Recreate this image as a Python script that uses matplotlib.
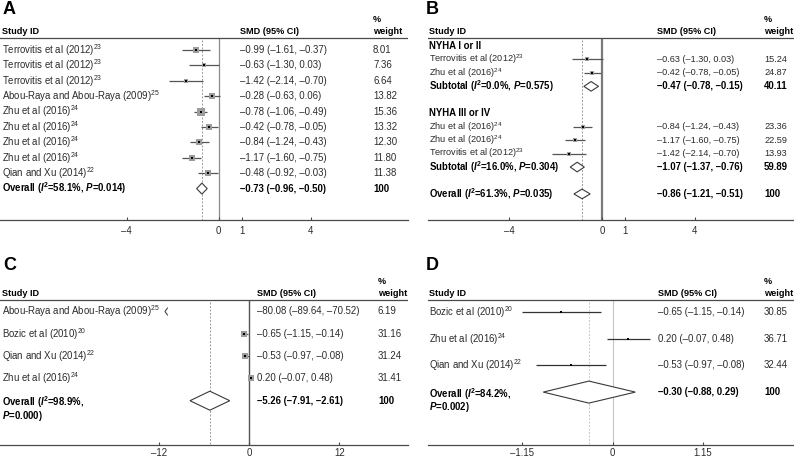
import matplotlib

matplotlib.use("Agg")
import matplotlib.pyplot as plt  # noqa: E402
import matplotlib.transforms as mtransforms  # noqa: E402
from matplotlib.patches import Polygon  # noqa: E402

W, H = 794, 461

# ---------------- data ----------------
# Panel A
A_STUDY = ["Terrovitis et al (2012)$^{23}$", "Terrovitis et al (2012)$^{23}$",
           "Terrovitis et al (2012)$^{23}$", "Abou-Raya and Abou-Raya (2009)$^{25}$",
           "Zhu et al (2016)$^{24}$", "Zhu et al (2016)$^{24}$", "Zhu et al (2016)$^{24}$",
           "Zhu et al (2016)$^{24}$", "Qian and Xu (2014)$^{22}$"]
A_EST = [-0.99, -0.63, -1.42, -0.28, -0.78, -0.42, -0.84, -1.17, -0.48]
A_LO = [-1.61, -1.30, -2.14, -0.63, -1.06, -0.78, -1.24, -1.60, -0.92]
A_HI = [-0.37, 0.03, -0.70, 0.06, -0.49, -0.05, -0.43, -0.75, -0.03]
A_W = [8.01, 7.36, 6.64, 13.82, 15.36, 13.32, 12.30, 11.80, 11.38]
A_OVERALL = (-0.73, -0.96, -0.50)
A_STATS = (58.1, 0.014)
A_TICKS = [-4, 0, 1, 4]

# Panel B (subgroups)
B_GROUPS = ["NYHA I or II", "NYHA III or IV"]
B_STUDY = [["Terrovitis et al (2012)$^{23}$", "Zhu et al (2016)$^{24}$"],
           ["Zhu et al (2016)$^{24}$", "Zhu et al (2016)$^{24}$", "Terrovitis et al (2012)$^{23}$"]]
B_EST = [[-0.63, -0.42], [-0.84, -1.17, -1.42]]
B_LO = [[-1.30, -0.78], [-1.24, -1.60, -2.14]]
B_HI = [[0.03, -0.05], [-0.43, -0.75, -0.70]]
B_W = [[15.24, 24.87], [23.36, 22.59, 13.93]]
B_SUB = [(-0.47, -0.78, -0.15), (-1.07, -1.37, -0.76)]
B_SUB_STATS = [(0.0, 0.575), (16.0, 0.304)]
B_SUB_W = [40.11, 59.89]
B_OVERALL = (-0.86, -1.21, -0.51)
B_STATS = (61.3, 0.035)
B_TICKS = [-4, 0, 1, 4]

# Panel C
C_STUDY = ["Abou-Raya and Abou-Raya (2009)$^{25}$", "Bozic et al (2010)$^{20}$",
           "Qian and Xu (2014)$^{22}$", "Zhu et al (2016)$^{24}$"]
C_EST = [-80.08, -0.65, -0.53, 0.20]
C_LO = [-89.64, -1.15, -0.97, -0.07]
C_HI = [-70.52, -0.14, -0.08, 0.48]
C_W = [6.19, 31.16, 31.24, 31.41]
C_OVERALL = (-5.26, -7.91, -2.61)
C_STATS = (98.9, 0.000)
C_TICKS = [-12, 0, 12]

# Panel D
D_STUDY = ["Bozic et al (2010)$^{20}$", "Zhu et al (2016)$^{24}$", "Qian and Xu (2014)$^{22}$"]
D_EST = [-0.65, 0.20, -0.53]
D_LO = [-1.15, -0.07, -0.97]
D_HI = [-0.14, 0.48, -0.08]
D_W = [30.85, 36.71, 32.44]
D_OVERALL = (-0.30, -0.88, 0.29)
D_STATS = (84.2, 0.002)
D_TICKS = [-1.15, 0, 1.15]

# ---------------- style ----------------
FS = 6.9
FS_HEAD = 6.6
TXT = "#2a2a2a"
LINE = "#4a4a4a"
CI = "#555555"
BOX = "#9c9c9c"

plt.rcParams.update({
    "font.family": ["Liberation Sans", "DejaVu Sans"],
    "font.size": FS,
    "mathtext.fontset": "custom",
    "mathtext.rm": "Liberation Sans",
    "mathtext.it": "Liberation Sans:italic",
    "mathtext.bf": "Liberation Sans:bold",
    "mathtext.bfit": "Liberation Sans:bold:italic",
})

fig = plt.figure(figsize=(W / 100, H / 100), dpi=100)
PX = mtransforms.Affine2D().scale(1 / W, 1 / H) + fig.transFigure


def dash(v, nd=2):
    return f"{v:.{nd}f}".replace("-", "\u2013")


def ci_text(est, lo, hi):
    return f"{dash(est)} ({dash(lo)}, {dash(hi)})"


def stats_text(kind, i2, p, sep=" "):
    return (f"{kind} ($\\mathbfit{{I}}^{{\\mathbf{{2}}}}$={i2:.1f}%,{sep}"
            f"$\\mathbfit{{P}}$={p:.3f})")


def make_axes(left, right, top, axis_y, zero_px, scale, ticks, pad=4):
    ax = fig.add_axes([left / W, 1 - axis_y / H, (right - left) / W, (axis_y - top) / H])
    ax.set_xlim((left - zero_px) / scale, (right - zero_px) / scale)
    ax.set_ylim(axis_y, top)
    for s in ("top", "left", "right"):
        ax.spines[s].set_visible(False)
    ax.spines["bottom"].set_color(LINE)
    ax.spines["bottom"].set_linewidth(0.9)
    ax.set_yticks([])
    ax.set_xticks(ticks, [dash(t, 2 if t % 1 else 0) for t in ticks])
    ax.tick_params(axis="x", direction="in", length=2, pad=pad, labelsize=FS,
                   color=LINE, labelcolor=TXT)
    ax.patch.set_alpha(0)
    ax.tr = mtransforms.blended_transform_factory(PX, ax.transData)
    return ax


def put(ax, x, y, s, bold=False, size=FS, va="center", **kw):
    ax.text(x, y, s, transform=ax.tr, va=va, ha="left", color="black" if bold else TXT,
            fontweight="bold" if bold else "normal", fontsize=size, **kw)


def header(ax, letter, lx, ly, cols, head_y, line_y):
    fig.text(lx / W, 1 - ly / H, letter, fontsize=13, fontweight="bold", va="center", ha="left")
    put(ax, cols[0], head_y, "Study ID", bold=True, size=FS_HEAD)
    put(ax, cols[1], head_y, "SMD (95% CI)", bold=True, size=FS_HEAD)
    put(ax, cols[2], head_y, "weight", bold=True, size=FS_HEAD)
    put(ax, cols[2], head_y - 12, "%", bold=True, size=FS_HEAD)
    ax.axhline(line_y, color=LINE, lw=0.9)


def study(ax, y, est, lo, hi, w, box_k, lc=CI, clip=None):
    if clip is not None and hi < clip:
        h = 3.5
        dx = (ax.get_xlim()[1] - ax.get_xlim()[0]) * 0.006
        ax.plot([clip + dx, clip, clip + dx], [y - h, y, y + h], color=LINE, lw=0.8)
        return
    ax.plot([lo, hi], [y, y], color=lc, lw=0.9, solid_capstyle="butt", zorder=2)
    if box_k:
        ax.scatter([est], [y], s=w * box_k, marker="s", color=BOX, linewidths=0, zorder=3)
    ax.scatter([est], [y], s=2.2, marker="s", color="black", linewidths=0, zorder=4)


def diamond(ax, y, est, lo, hi, h):
    ax.add_patch(Polygon([(lo, y), (est, y - h), (hi, y), (est, y + h)], closed=True,
                         facecolor="white", edgecolor="#3a3a3a", lw=0.8, zorder=3))


def ref_lines(ax, top, bottom, est, zc, zlw, dc):
    ax.vlines(0, top, bottom, color=zc, lw=zlw, zorder=1)
    ax.vlines(est, top + 2, bottom, color=dc, lw=0.7, linestyles=(0, (2, 1.6)), zorder=1)


# ---------------- Panel A ----------------
axA = make_axes(0, 408, 0, 220, 218.7, 23.0, A_TICKS)
colsA = (2, 240, 373)
header(axA, "A", 3, 10, colsA, 31, 38.5)
rowsA = [50 + 15.4 * i for i in range(len(A_STUDY) + 1)]
ref_lines(axA, 38.5, 220, A_OVERALL[0], "#8a8a8a", 0.9, "#9a9a9a")
for i, lab in enumerate(A_STUDY):
    y = rowsA[i]
    study(axA, y, A_EST[i], A_LO[i], A_HI[i], A_W[i], 1.7)
    put(axA, colsA[0], y, lab)
    put(axA, colsA[1], y, ci_text(A_EST[i], A_LO[i], A_HI[i]))
    put(axA, colsA[2], y, f"{A_W[i]:.2f}")
yo = rowsA[-1]
diamond(axA, yo, *A_OVERALL, 5.5)
put(axA, colsA[0], yo, stats_text("Overall", *A_STATS), bold=True)
put(axA, colsA[1], yo, ci_text(*A_OVERALL), bold=True)
put(axA, colsA[2], yo, "100", bold=True)

# ---------------- Panel B ----------------
FS_B = 6.6
axB = make_axes(428, 794, 0, 220, 602.0, 23.2, B_TICKS)
colsB = (429, 657, 764)
header(axB, "B", 426, 10, colsB, 31, 38.5)
ref_lines(axB, 38.5, 220, B_OVERALL[0], "#7a7a7a", 1.6, "#9a9a9a")
dyB = 13.45
k = 0
for g, name in enumerate(B_GROUPS):
    y = 46 + dyB * k
    put(axB, colsB[0], y, name, bold=True)
    k += 1
    for j, lab in enumerate(B_STUDY[g]):
        y = 46 + dyB * k
        est, lo, hi, w = B_EST[g][j], B_LO[g][j], B_HI[g][j], B_W[g][j]
        study(axB, y, est, lo, hi, w, 0.5)
        put(axB, colsB[0], y, lab, size=FS_B)
        put(axB, colsB[1], y, ci_text(est, lo, hi), size=FS_B)
        put(axB, colsB[2], y, f"{w:.2f}", size=FS_B)
        k += 1
    y = 46 + dyB * k
    diamond(axB, y, *B_SUB[g], 4.8)
    put(axB, colsB[0], y, stats_text("Subtotal", *B_SUB_STATS[g]), bold=True)
    put(axB, colsB[1], y, ci_text(*B_SUB[g]), bold=True)
    put(axB, colsB[2], y, f"{B_SUB_W[g]:.2f}", bold=True)
    k += 2
y = 46 + dyB * k
diamond(axB, y, *B_OVERALL, 4.8)
put(axB, colsB[0], y, stats_text("Overall", *B_STATS), bold=True)
put(axB, colsB[1], y, ci_text(*B_OVERALL), bold=True)
put(axB, colsB[2], y, "100", bold=True)

# ---------------- Panel C ----------------
axC = make_axes(0, 408, 240, 445, 249.3, 7.5, C_TICKS, pad=2.5)
colsC = (2, 257, 378)
header(axC, "C", 3, 265, colsC, 293, 300)
ref_lines(axC, 300, 445, C_OVERALL[0], "#555555", 1.0, "#9a9a9a")
c_clip = (165 - 249.3) / 7.5
rowsC = [311.5 + 22.3 * i for i in range(len(C_STUDY) + 1)]
for i, lab in enumerate(C_STUDY):
    y = rowsC[i]
    study(axC, y, C_EST[i], C_LO[i], C_HI[i], C_W[i], 0.6, clip=c_clip)
    put(axC, colsC[0], y, lab)
    put(axC, colsC[1], y, ci_text(C_EST[i], C_LO[i], C_HI[i]))
    put(axC, colsC[2], y, f"{C_W[i]:.2f}")
yo = rowsC[-1]
diamond(axC, yo, *C_OVERALL, 9.5)
put(axC, colsC[0], yo - 6, stats_text("Overall", *C_STATS, sep="\n"), bold=True,
    va="top", linespacing=0.85)
put(axC, colsC[1], yo, ci_text(*C_OVERALL), bold=True)
put(axC, colsC[2], yo, "100", bold=True)

# ---------------- Panel D ----------------
axD = make_axes(428, 794, 240, 445, 612.5, 78.7, D_TICKS, pad=2.5)
colsD = (429, 658, 764)
header(axD, "D", 426, 265, colsD, 293, 300)
ref_lines(axD, 300, 445, D_OVERALL[0], "#c4c4c4", 0.8, "#c8c8c8")
rowsD = [312 + 26.7 * i for i in range(len(D_STUDY) + 1)]
for i, lab in enumerate(D_STUDY):
    y = rowsD[i]
    study(axD, y, D_EST[i], D_LO[i], D_HI[i], D_W[i], 0, lc="#333333")
    put(axD, colsD[0], y, lab)
    put(axD, colsD[1], y, ci_text(D_EST[i], D_LO[i], D_HI[i]))
    put(axD, colsD[2], y, f"{D_W[i]:.2f}")
yo = rowsD[-1]
diamond(axD, yo, *D_OVERALL, 11)
put(axD, colsD[0], yo - 6, stats_text("Overall", *D_STATS, sep="\n"), bold=True,
    va="top", linespacing=0.85)
put(axD, colsD[1], yo, ci_text(*D_OVERALL), bold=True)
put(axD, colsD[2], yo, "100", bold=True)

fig.savefig("out.png", dpi=100, facecolor="white")
